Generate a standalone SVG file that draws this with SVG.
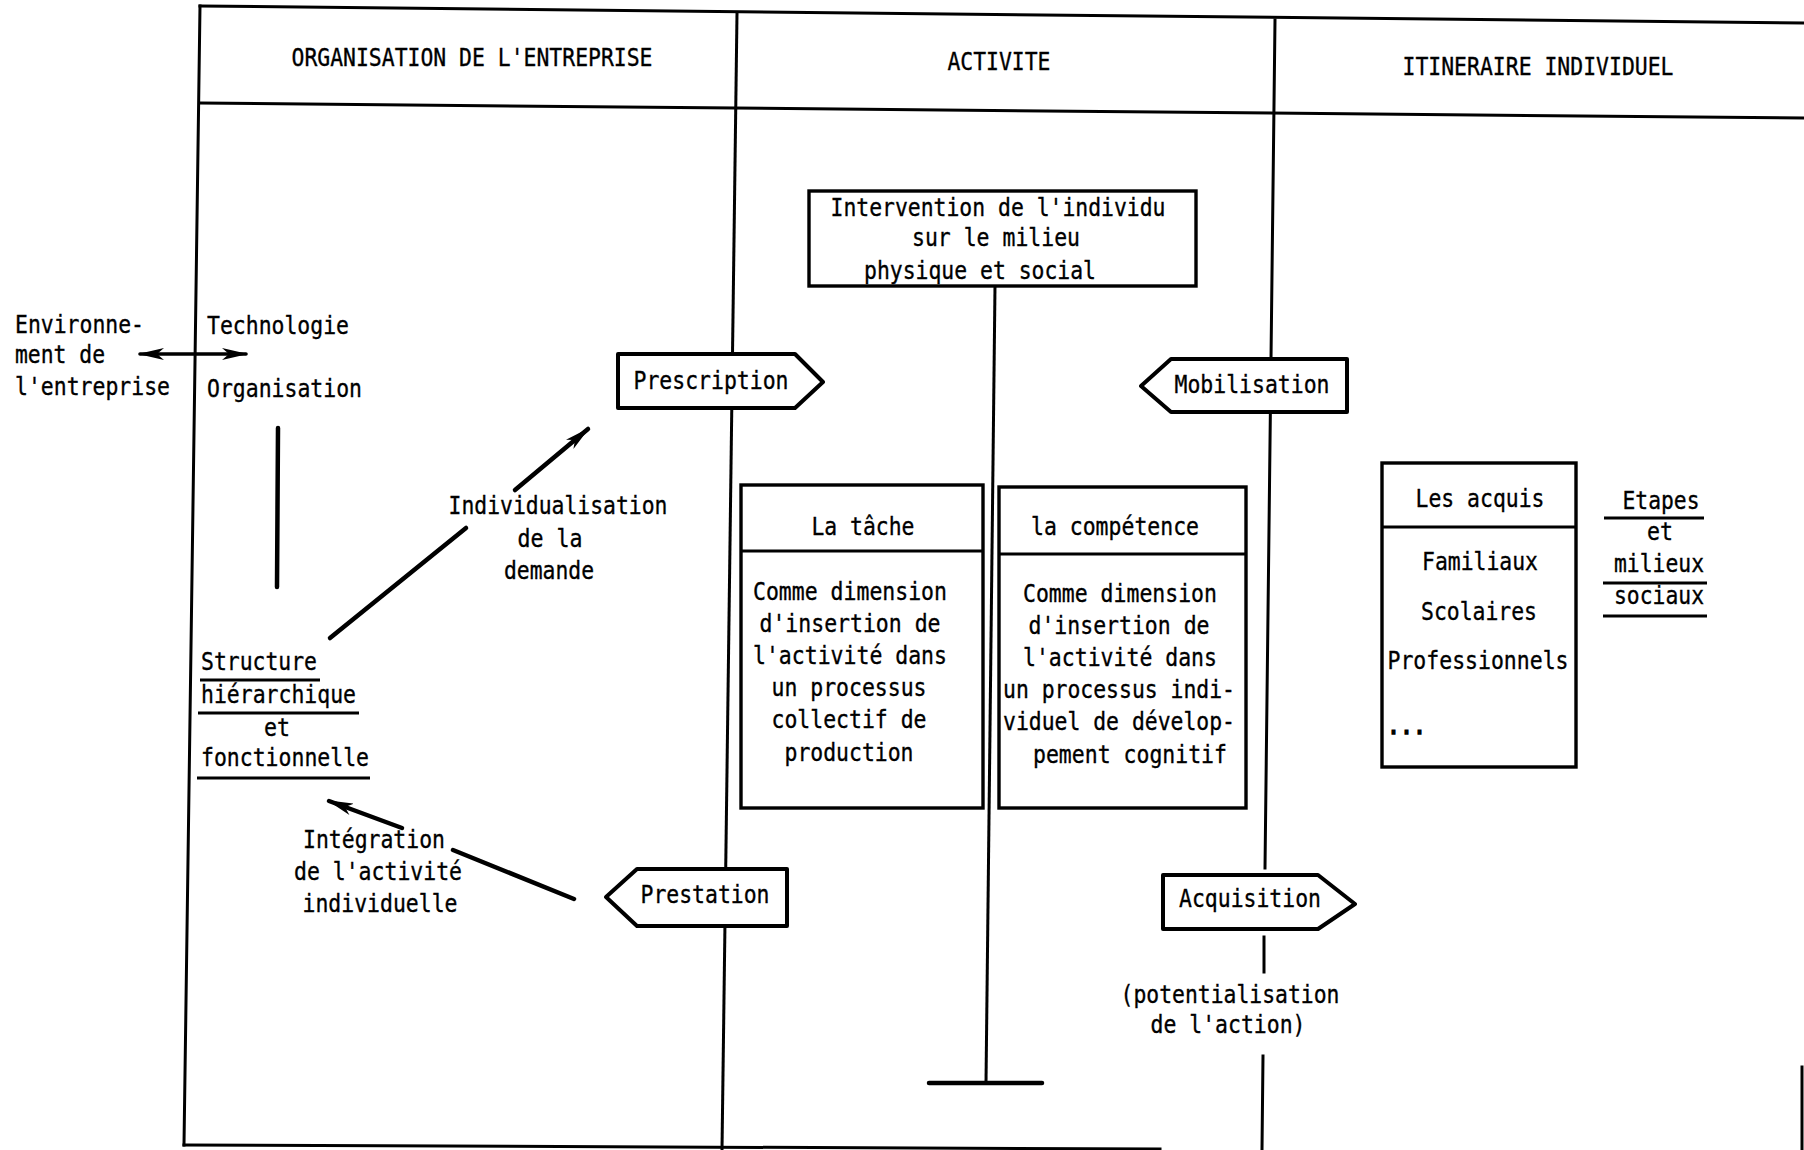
<svg xmlns="http://www.w3.org/2000/svg" width="1804" height="1150" viewBox="0 0 1804 1150">
<style>
.t{font-family:"DejaVu Sans Mono","Liberation Mono",monospace;font-size:25px;fill:#000;stroke:#000;stroke-width:0.35}
.m{text-anchor:middle}
.fr{stroke:#000;stroke-width:3;fill:none;stroke-linecap:square}
.ln{stroke:#000;stroke-width:3;fill:none}
.arr{stroke:#000;stroke-width:4.5;fill:none;stroke-linecap:round}
.box{fill:#fff;stroke:#000;stroke-width:3.4}
.pent{fill:#fff;stroke:#000;stroke-width:4;stroke-linejoin:round}
</style>
<defs>
<marker id="ah" viewBox="0 0 26 12" refX="24" refY="6" markerWidth="26" markerHeight="12" markerUnits="userSpaceOnUse" orient="auto-start-reverse">
<path d="M0,0 L26,6 L0,12 L7,6 Z" fill="#000"/>
</marker>
</defs>
<rect width="1804" height="1150" fill="#fff"/>
<g id="frame">
<line class="fr" x1="200" y1="6" x2="1804" y2="23"/>
<line class="fr" x1="200" y1="103" x2="1804" y2="118"/>
<line class="fr" x1="200" y1="6" x2="184" y2="1145"/>
<line class="fr" x1="184" y1="1145" x2="1160" y2="1149"/>
<line class="fr" x1="1802" y1="1067" x2="1802" y2="1150"/>
<line class="fr" x1="737" y1="13" x2="722" y2="1150"/>
<line class="fr" x1="1275" y1="20" x2="1265" y2="868"/>
<line class="fr" x1="1264" y1="937" x2="1264" y2="972"/>
<line class="fr" x1="1263" y1="1056" x2="1262" y2="1150"/>
</g>
<g id="headers">
<text class="t m" x="472" y="66" textLength="361" lengthAdjust="spacingAndGlyphs">ORGANISATION DE L'ENTREPRISE</text>
<text class="t m" x="999" y="70" textLength="103" lengthAdjust="spacingAndGlyphs">ACTIVITE</text>
<text class="t m" x="1538" y="75" textLength="271" lengthAdjust="spacingAndGlyphs">ITINERAIRE INDIVIDUEL</text>
</g>
<g id="connectors">
<line class="arr" x1="140" y1="354" x2="246" y2="354" style="stroke-width:3.5" marker-start="url(#ah)" marker-end="url(#ah)"/>
<line class="arr" x1="278" y1="428" x2="277" y2="587"/>
<line class="arr" x1="330" y1="638" x2="466" y2="528"/>
<line class="arr" x1="515" y1="490" x2="588" y2="429" marker-end="url(#ah)"/>
<line class="arr" x1="574" y1="899" x2="453" y2="850"/>
<line class="arr" x1="402" y1="828" x2="329" y2="801" marker-end="url(#ah)"/>
<line class="ln" x1="995" y1="286" x2="986" y2="1083"/>
<line class="arr" x1="929" y1="1083" x2="1042" y2="1083"/>
<line class="ln" x1="1604" y1="518" x2="1704" y2="518"/>
<line class="ln" x1="1603" y1="583" x2="1707" y2="583"/>
<line class="ln" x1="1603" y1="616" x2="1707" y2="616"/>
<line class="ln" x1="200" y1="680" x2="320" y2="680"/>
<line class="ln" x1="198" y1="713" x2="359" y2="713"/>
<line class="ln" x1="197" y1="778" x2="370" y2="778"/>
</g>
<g id="environnement">
<text class="t" x="15" y="333" textLength="129" lengthAdjust="spacingAndGlyphs">Environne-</text>
<text class="t" x="15" y="363" textLength="90" lengthAdjust="spacingAndGlyphs">ment de</text>
<text class="t" x="15" y="395" textLength="155" lengthAdjust="spacingAndGlyphs">l'entreprise</text>
</g>
<g id="technologie">
<text class="t" x="207" y="334" textLength="142" lengthAdjust="spacingAndGlyphs">Technologie</text>
<text class="t" x="207" y="397" textLength="155" lengthAdjust="spacingAndGlyphs">Organisation</text>
</g>
<g id="structure">
<text class="t" x="201" y="670" textLength="116" lengthAdjust="spacingAndGlyphs">Structure</text>
<text class="t" x="201" y="703" textLength="155" lengthAdjust="spacingAndGlyphs">hiérarchique</text>
<text class="t m" x="277" y="736" textLength="26" lengthAdjust="spacingAndGlyphs">et</text>
<text class="t" x="201" y="766" textLength="168" lengthAdjust="spacingAndGlyphs">fonctionnelle</text>
</g>
<g id="individualisation">
<text class="t m" x="558" y="514" textLength="219" lengthAdjust="spacingAndGlyphs">Individualisation</text>
<text class="t m" x="550" y="547" textLength="65" lengthAdjust="spacingAndGlyphs">de la</text>
<text class="t m" x="549" y="579" textLength="90" lengthAdjust="spacingAndGlyphs">demande</text>
</g>
<g id="integration">
<text class="t m" x="374" y="848" textLength="142" lengthAdjust="spacingAndGlyphs">Intégration</text>
<text class="t m" x="378" y="880" textLength="168" lengthAdjust="spacingAndGlyphs">de l'activité</text>
<text class="t m" x="380" y="912" textLength="155" lengthAdjust="spacingAndGlyphs">individuelle</text>
</g>
<g id="prescription">
<polygon class="pent" points="618,354 795,354 823,382 795,408 618,408"/>
<text class="t m" x="711" y="389" textLength="155" lengthAdjust="spacingAndGlyphs">Prescription</text>
</g>
<g id="prestation">
<polygon class="pent" points="606,897 637,869 787,869 787,926 637,926"/>
<text class="t m" x="705" y="903" textLength="129" lengthAdjust="spacingAndGlyphs">Prestation</text>
</g>
<g id="mobilisation">
<polygon class="pent" points="1141,386 1171,359 1347,359 1347,412 1171,412"/>
<text class="t m" x="1252" y="393" textLength="155" lengthAdjust="spacingAndGlyphs">Mobilisation</text>
</g>
<g id="acquisition">
<polygon class="pent" points="1163,875 1318,875 1355,904 1318,929 1163,929"/>
<text class="t m" x="1250" y="907" textLength="142" lengthAdjust="spacingAndGlyphs">Acquisition</text>
</g>
<g id="potentialisation">
<text class="t m" x="1230" y="1003" textLength="219" lengthAdjust="spacingAndGlyphs">(potentialisation</text>
<text class="t m" x="1228" y="1033" textLength="155" lengthAdjust="spacingAndGlyphs">de l'action)</text>
</g>
<g id="intervention">
<rect class="box" x="809" y="191" width="387" height="95"/>
<text class="t m" x="998" y="216" textLength="335" lengthAdjust="spacingAndGlyphs">Intervention de l'individu</text>
<text class="t m" x="996" y="246" textLength="168" lengthAdjust="spacingAndGlyphs">sur le milieu</text>
<text class="t m" x="980" y="279" textLength="232" lengthAdjust="spacingAndGlyphs">physique et social</text>
</g>
<g id="tache">
<rect class="box" x="741" y="485" width="242" height="323"/>
<line class="ln" x1="741" y1="551" x2="983" y2="551"/>
<text class="t m" x="863" y="535" textLength="103" lengthAdjust="spacingAndGlyphs">La tâche</text>
<text class="t m" x="850" y="600" textLength="194" lengthAdjust="spacingAndGlyphs">Comme dimension</text>
<text class="t m" x="850" y="632" textLength="181" lengthAdjust="spacingAndGlyphs">d'insertion de</text>
<text class="t m" x="850" y="664" textLength="194" lengthAdjust="spacingAndGlyphs">l'activité dans</text>
<text class="t m" x="849" y="696" textLength="155" lengthAdjust="spacingAndGlyphs">un processus</text>
<text class="t m" x="849" y="728" textLength="155" lengthAdjust="spacingAndGlyphs">collectif de</text>
<text class="t m" x="849" y="761" textLength="129" lengthAdjust="spacingAndGlyphs">production</text>
</g>
<g id="competence">
<rect class="box" x="999" y="487" width="247" height="321"/>
<line class="ln" x1="999" y1="554" x2="1246" y2="554"/>
<text class="t m" x="1115" y="535" textLength="168" lengthAdjust="spacingAndGlyphs">la compétence</text>
<text class="t m" x="1120" y="602" textLength="194" lengthAdjust="spacingAndGlyphs">Comme dimension</text>
<text class="t m" x="1119" y="634" textLength="181" lengthAdjust="spacingAndGlyphs">d'insertion de</text>
<text class="t m" x="1120" y="666" textLength="194" lengthAdjust="spacingAndGlyphs">l'activité dans</text>
<text class="t m" x="1119" y="698" textLength="232" lengthAdjust="spacingAndGlyphs">un processus indi-</text>
<text class="t m" x="1119" y="730" textLength="232" lengthAdjust="spacingAndGlyphs">viduel de dévelop-</text>
<text class="t m" x="1130" y="763" textLength="194" lengthAdjust="spacingAndGlyphs">pement cognitif</text>
</g>
<g id="acquis">
<rect class="box" x="1382" y="463" width="194" height="304"/>
<line class="ln" x1="1382" y1="527" x2="1576" y2="527"/>
<text class="t m" x="1480" y="507" textLength="129" lengthAdjust="spacingAndGlyphs">Les acquis</text>
<text class="t m" x="1480" y="570" textLength="116" lengthAdjust="spacingAndGlyphs">Familiaux</text>
<text class="t m" x="1479" y="620" textLength="116" lengthAdjust="spacingAndGlyphs">Scolaires</text>
<text class="t m" x="1478" y="669" textLength="181" lengthAdjust="spacingAndGlyphs">Professionnels</text>
<text class="t" x="1387" y="734" textLength="39" lengthAdjust="spacingAndGlyphs" style="stroke-width:1.6">...</text>
</g>
<g id="etapes">
<text class="t m" x="1661" y="509" textLength="77" lengthAdjust="spacingAndGlyphs">Etapes</text>
<text class="t m" x="1660" y="540" textLength="26" lengthAdjust="spacingAndGlyphs">et</text>
<text class="t m" x="1659" y="572" textLength="90" lengthAdjust="spacingAndGlyphs">milieux</text>
<text class="t m" x="1659" y="604" textLength="90" lengthAdjust="spacingAndGlyphs">sociaux</text>
</g>
</svg>
